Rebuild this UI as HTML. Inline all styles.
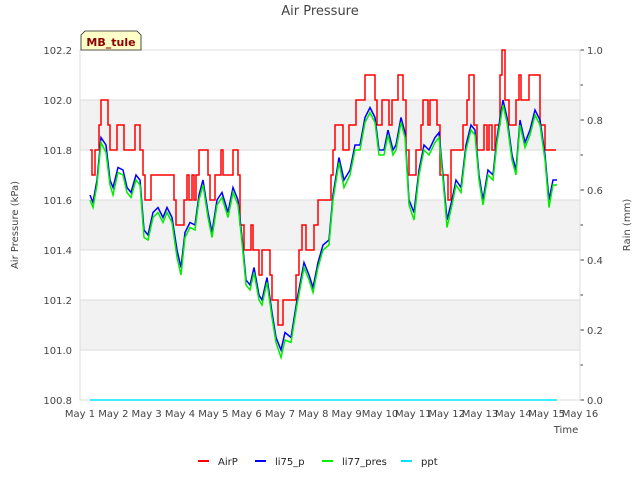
<!DOCTYPE html>
<html><head><meta charset="utf-8">
<style>
body{margin:0;background:#fff;font-family:"DejaVu Sans","Liberation Sans",sans-serif;}
svg text{font-family:"DejaVu Sans","Liberation Sans",sans-serif;}
</style></head>
<body>
<svg id="chart" width="640" height="480" xmlns="http://www.w3.org/2000/svg">
<rect width="640" height="480" fill="#fff"/>
<text x="320" y="15" text-anchor="middle" font-size="13" fill="#444">Air Pressure</text>
<g id="bands"></g>
<g id="grid"></g>
<g id="axes"></g>
<g id="series"></g>
<g>
<path d="M81,50 L81,35 L85,31 L137,31 L141,35 L141,50 Z" fill="#ffffc8" stroke="#222" stroke-width="0.8"/>
<text x="111" y="46" text-anchor="middle" font-size="11" font-weight="bold" fill="#8b0000">MB_tule</text>
</g>
<text transform="translate(18,225) rotate(-90)" text-anchor="middle" font-size="10" fill="#444">Air Pressure (kPa)</text>
<text transform="translate(630,225) rotate(-90)" text-anchor="middle" font-size="10" fill="#444">Rain (mm)</text>
<text x="566" y="433" text-anchor="middle" font-size="10" fill="#444">Time</text>
<g id="legend"></g>
</svg>
<script>
const li75Days=[1.30,1.39,1.51,1.63,1.78,1.90,1.99,2.14,2.29,2.41,2.53,2.68,2.80,2.92,3.04,3.19,3.34,3.49,3.61,3.76,3.91,4.03,4.15,4.30,4.45,4.57,4.69,4.84,4.96,5.11,5.26,5.44,5.59,5.74,5.86,5.98,6.10,6.22,6.37,6.46,6.61,6.76,6.88,7.03,7.15,7.33,7.51,7.72,7.87,7.99,8.14,8.29,8.47,8.59,8.77,8.92,9.10,9.25,9.40,9.55,9.70,9.85,9.97,10.12,10.24,10.39,10.48,10.63,10.75,10.87,11.02,11.17,11.32,11.47,11.65,11.77,11.89,12.01,12.16,12.28,12.43,12.58,12.73,12.85,12.97,13.09,13.24,13.39,13.51,13.69,13.81,13.96,14.08,14.20,14.35,14.50,14.65,14.80,14.95,15.07,15.19,15.31];
const li75Vals=[101.62,101.59,101.68,101.85,101.82,101.68,101.65,101.73,101.72,101.65,101.63,101.70,101.68,101.48,101.46,101.55,101.57,101.53,101.57,101.53,101.40,101.33,101.47,101.51,101.50,101.62,101.68,101.55,101.47,101.60,101.63,101.55,101.65,101.60,101.45,101.28,101.26,101.33,101.22,101.20,101.29,101.15,101.05,101.00,101.07,101.05,101.20,101.35,101.30,101.25,101.35,101.42,101.44,101.62,101.77,101.68,101.72,101.82,101.82,101.93,101.97,101.93,101.80,101.80,101.88,101.80,101.82,101.93,101.87,101.60,101.55,101.72,101.82,101.80,101.85,101.87,101.70,101.52,101.60,101.68,101.65,101.82,101.90,101.88,101.70,101.60,101.72,101.70,101.85,102.00,101.93,101.78,101.72,101.92,101.83,101.88,101.96,101.92,101.78,101.60,101.68,101.68];
const li77Vals=[101.60,101.57,101.66,101.83,101.79,101.66,101.62,101.71,101.70,101.63,101.61,101.68,101.66,101.45,101.44,101.53,101.55,101.51,101.55,101.51,101.37,101.30,101.45,101.49,101.48,101.60,101.66,101.53,101.45,101.58,101.61,101.53,101.63,101.58,101.43,101.26,101.24,101.31,101.20,101.18,101.27,101.13,101.03,100.97,101.04,101.03,101.18,101.33,101.28,101.23,101.33,101.40,101.42,101.60,101.75,101.65,101.70,101.80,101.80,101.91,101.95,101.91,101.78,101.78,101.86,101.78,101.80,101.91,101.85,101.58,101.52,101.70,101.80,101.78,101.83,101.85,101.68,101.49,101.58,101.66,101.63,101.80,101.88,101.86,101.68,101.58,101.70,101.68,101.83,101.98,101.91,101.76,101.70,101.90,101.81,101.86,101.94,101.90,101.76,101.57,101.66,101.66];
const airpDays=[1.30,1.36,1.45,1.57,1.63,1.84,1.90,2.11,2.32,2.65,2.80,2.89,2.95,3.13,3.82,3.88,4.12,4.21,4.27,4.36,4.42,4.48,4.57,4.84,4.90,5.05,5.23,5.29,5.59,5.74,5.80,5.92,6.13,6.19,6.37,6.46,6.70,6.76,6.94,7.09,7.48,7.57,7.66,7.78,8.02,8.14,8.53,8.59,8.65,8.89,9.07,9.28,9.55,9.85,9.91,10.06,10.27,10.36,10.54,10.69,10.78,10.87,11.08,11.23,11.29,11.44,11.50,11.71,11.80,12.04,12.13,12.49,12.61,12.67,12.82,12.91,13.12,13.21,13.27,13.36,13.45,13.60,13.66,13.75,13.87,14.08,14.17,14.23,14.47,14.80,14.95,15.28];
const airpVals=[101.8,101.7,101.8,101.9,102.0,101.9,101.8,101.9,101.8,101.9,101.8,101.7,101.6,101.7,101.6,101.5,101.6,101.7,101.6,101.7,101.6,101.7,101.8,101.7,101.6,101.7,101.8,101.7,101.8,101.7,101.5,101.4,101.5,101.4,101.3,101.4,101.3,101.2,101.1,101.2,101.3,101.4,101.5,101.4,101.5,101.6,101.7,101.8,101.9,101.8,101.9,102.0,102.1,102.0,101.9,102.0,101.9,102.0,102.1,102.0,101.8,101.7,101.8,101.9,102.0,101.9,102.0,101.9,101.7,101.6,101.8,101.9,102.0,102.1,101.9,101.8,101.9,101.8,101.9,101.8,101.9,102.1,102.2,102.0,101.9,102.0,102.1,102.0,102.1,101.9,101.8,101.8];
const pptDays=[1.30,15.31];
const pptVals=[0,0];
const yTicks=[100.8,101.0,101.2,101.4,101.6,101.8,102.0,102.2];
const y2Ticks=[0,0.2,0.4,0.6,0.8,1.0];
const y2Minor=[0.1,0.3,0.5,0.7,0.9];
const xTickLabels=["May 1","May 2","May 3","May 4","May 5","May 6","May 7","May 8","May 9","May 10","May 11","May 12","May 13","May 14","May 15","May 16"];

const L=80,R=580,T=50,B=400;
const xs=d=>L+(d-1)*(R-L)/15;
const ys=v=>B-(v-100.8)*(B-T)/1.4;
const y2s=v=>B-v*(B-T)/1.0;
const NS="http://www.w3.org/2000/svg";
function mk(tag,attrs,parent){const e=document.createElementNS(NS,tag);for(const k in attrs)e.setAttribute(k,attrs[k]);document.getElementById(parent).appendChild(e);return e;}

for(let i=0;i<yTicks.length-1;i++){
 if(i%2===1){const r=mk('rect',{x:L,y:ys(yTicks[i+1]),width:R-L,height:ys(yTicks[i])-ys(yTicks[i+1]),fill:'#f2f2f2'},'bands');
 
 }
}
yTicks.forEach(v=>{
 const l=mk('line',{x1:L,x2:R,y1:ys(v),y2:ys(v),stroke:'#dcdcdc','stroke-width':1},'grid');
 
 
 const t=mk('text',{x:L-8,y:ys(v)+4,'text-anchor':'end','font-size':10,fill:'#444'},'axes');
 t.textContent=v.toFixed(1);
 
 
});
y2Ticks.forEach(v=>{
 const m=mk('line',{x1:R,x2:R+4,y1:y2s(v),y2:y2s(v),stroke:'#444'},'axes');
 
 
 const t=mk('text',{x:R+7,y:y2s(v)+4,'font-size':10,fill:'#444'},'axes');
 t.textContent=v.toFixed(1);
 
 
});
y2Minor.forEach(v=>{
 const m=mk('line',{x1:R,x2:R+3,y1:y2s(v),y2:y2s(v),stroke:'#444'},'axes');
 
 
});
xTickLabels.forEach((s,i)=>{
 const t=mk('text',{x:xs(i+1),y:B+17,'text-anchor':'middle','font-size':10,fill:'#444'},'axes');
 t.textContent=s;
 
 
});
const fr=mk('rect',{x:L,y:T,width:R-L,height:B-T,fill:'none',stroke:'#dcdcdc'},'axes');



function line(days,vals,scale,color,name,step){
 let d='';
 for(let i=0;i<days.length;i++){
  const x=xs(days[i]),y=scale(vals[i]);
  if(i===0)d+='M'+x+','+y;
  else if(step)d+='H'+x+'V'+y;
  else d+='L'+x+','+y;
 }
 const p=mk('path',{d:d,fill:'none',stroke:color,'stroke-width':1.5},'series');
 
 
}
line(pptDays,pptVals,y2s,'#00e5ff','ppt-line',false);
line(airpDays,airpVals,ys,'#ff0000','airp-line',true);
line(li75Days,li75Vals,ys,'#0000ff','li75-p-line',false);
line(li75Days,li77Vals,ys,'#00ee00','li77-pres-line',false);

const leg=[['AirP','#ff0000',198],['li75_p','#0000ff',255],['li77_pres','#00ee00',322],['ppt','#00e5ff',401]];
leg.forEach(e=>{
 const g=mk('g',{},'legend');
 
 
 const l=document.createElementNS(NS,'line');
 l.setAttribute('x1',e[2]);l.setAttribute('x2',e[2]+11);l.setAttribute('y1',461);l.setAttribute('y2',461);
 l.setAttribute('stroke',e[1]);l.setAttribute('stroke-width',2);g.appendChild(l);
 const t=document.createElementNS(NS,'text');
 t.setAttribute('x',e[2]+20);t.setAttribute('y',465);t.setAttribute('font-size',10);t.setAttribute('fill','#222');
 t.textContent=e[0];g.appendChild(t);
});
</script>
</body></html>
